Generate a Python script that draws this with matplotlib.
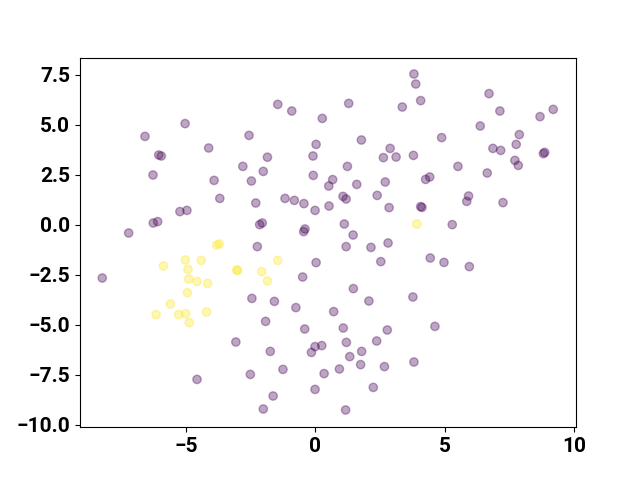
import matplotlib
matplotlib.use("Agg")
import matplotlib.pyplot as plt
import numpy as np

plt.rcParams['font.family'] = ['Roboto', 'DejaVu Sans']
plt.rcParams['font.weight'] = 'bold'
plt.rcParams['font.size'] = 15

# purple cluster (label 0)
x0 = [-5.03, -6.58, -6.05, -5.95, -4.12, -2.56, -6.27, -2.80, -3.91, -2.47,
      -3.69, -5.23, -4.96, -6.26, -6.09, -7.21, -1.45, -0.91, 1.29, 3.36,
      0.27, 1.78, 0.03, 2.89, -1.85, -0.09, 2.63, 3.12, 3.79, -2.01,
      1.24, -0.08, 0.67, 0.52, 1.60, 2.70, 2.39, 1.07, 1.19, -1.17,
      -0.81, -0.44, -2.30, -0.01, 0.53, 2.85, -2.15, -2.05, -0.45, -0.40,
      1.12, 1.46, -2.24, 1.19, 2.15, 2.81, 3.81, 3.88, 4.07, 6.71,
      7.13, 8.68, 9.19, 6.37, 4.88, 7.88, 7.76, 6.86, 7.16, 8.81,
      8.86, 7.71, 7.84, 5.51, 6.64, 4.26, 4.42, 5.85, 5.92, 7.25,
      4.07, 4.12, 5.29, -8.23, -3.07, -4.57, -2.51, 0.03, 2.53, -0.49,
      1.47, -2.45, -1.58, 2.07, 3.77, -0.75, 0.71, -1.92, -0.41, 1.08,
      2.78, 1.20, 2.37, -1.74, -0.15, -0.01, 0.25, 1.79, 1.33, 1.75,
      2.67, 0.93, -1.25, 0.34, -0.01, 2.24, -1.63, -2.01, 1.17, 4.44,
      4.97, 5.95, 4.62, 3.81]
y0 = [5.07, 4.43, 3.50, 3.45, 3.85, 4.48, 2.50, 2.93, 2.23, 2.20,
      1.33, 0.67, 0.73, 0.10, 0.17, -0.40, 6.03, 5.70, 6.08, 5.90,
      5.33, 4.25, 4.03, 3.83, 3.39, 3.45, 3.37, 3.40, 3.48, 2.68,
      2.93, 2.48, 2.27, 1.95, 2.03, 2.15, 1.48, 1.43, 1.30, 1.33,
      1.23, 1.07, 1.10, 0.73, 0.95, 0.87, 0.02, 0.10, -0.33, -0.20,
      0.05, -0.50, -1.08, -1.08, -1.12, -0.90, 7.55, 7.05, 6.22, 6.57,
      5.70, 5.42, 5.78, 4.95, 4.37, 4.52, 4.03, 3.83, 3.73, 3.57,
      3.63, 3.23, 2.98, 2.93, 2.60, 2.28, 2.40, 1.18, 1.45, 1.12,
      0.92, 0.88, 0.02, -2.65, -5.85, -7.72, -7.47, -1.88, -1.83, -2.60,
      -3.18, -3.67, -3.82, -3.80, -3.60, -4.13, -4.33, -4.82, -5.20, -5.15,
      -5.25, -5.87, -5.80, -6.32, -6.37, -6.08, -6.03, -6.32, -6.58, -6.98,
      -7.08, -7.20, -7.22, -7.43, -8.22, -8.12, -8.55, -9.20, -9.25, -1.65,
      -1.87, -2.08, -5.07, -6.85]

# yellow cluster (label 1)
x1 = [-3.81, -3.71, -5.87, -5.02, -4.41, -4.92, -3.04, -3.00, -4.89, -4.57,
      -4.16, -4.94, -5.60, -6.15, -5.28, -5.01, -4.20, -4.87, -1.45, -2.07,
      -1.85, 3.92]
y1 = [-1.00, -0.95, -2.05, -1.75, -1.77, -2.22, -2.25, -2.27, -2.70, -2.82,
      -2.92, -3.38, -3.95, -4.48, -4.48, -4.43, -4.35, -4.88, -1.77, -2.33,
      -2.80, 0.05]

x = np.array(x0 + x1)
y = np.array(y0 + y1)
labels = np.array([0] * len(x0) + [1] * len(x1))

fig = plt.figure(figsize=(6.4, 4.8), dpi=100)
plt.scatter(x, y, c=labels, cmap='viridis', alpha=0.35)
plt.xlim(-9.09, 10.07)
plt.ylim(-10.11, 8.37)
plt.savefig("out.png")
